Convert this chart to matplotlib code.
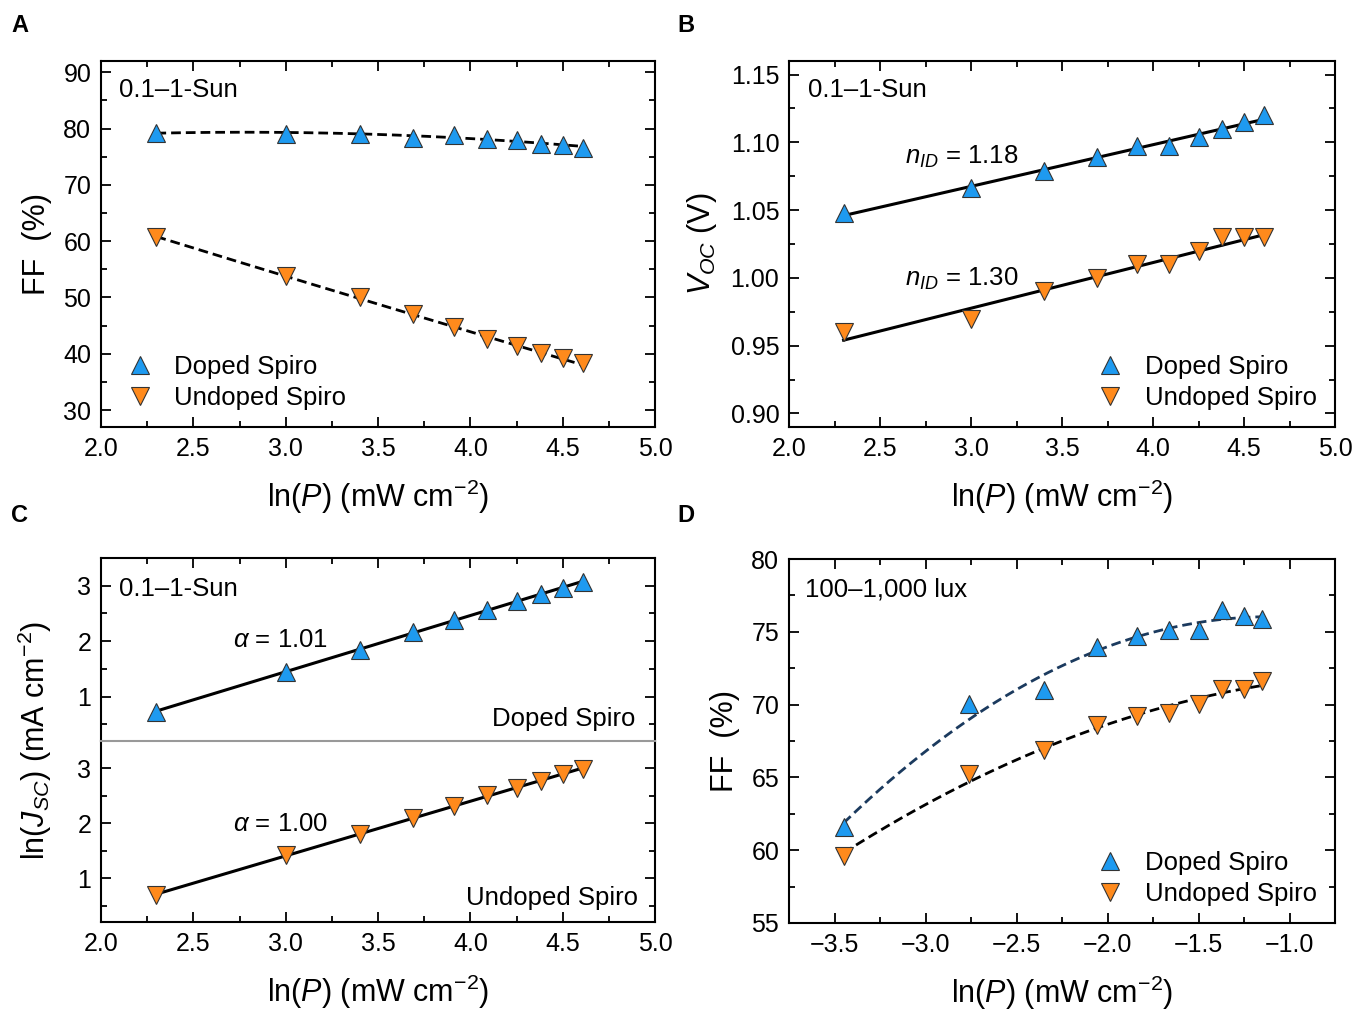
import numpy as np
import matplotlib
matplotlib.use("Agg")
import matplotlib.pyplot as plt
from matplotlib.ticker import MultipleLocator, FuncFormatter

plt.rcParams['font.family'] = ['Liberation Sans', 'DejaVu Sans']
plt.rcParams['mathtext.fontset'] = 'custom'
plt.rcParams['mathtext.rm'] = 'Liberation Sans'
plt.rcParams['mathtext.it'] = 'Liberation Sans:italic'
plt.rcParams['mathtext.bf'] = 'Liberation Sans:bold'

# ---------------- data ----------------
lnP_sun = [2.30, 3.00, 3.40, 3.69, 3.91, 4.09, 4.25, 4.38, 4.50, 4.61]
ff_sun_doped = [79.3, 79.1, 79.0, 78.4, 78.8, 78.2, 78.0, 77.3, 77.1, 76.6]
ff_sun_undoped = [60.7, 53.9, 50.1, 47.0, 44.7, 42.7, 41.3, 40.1, 39.2, 38.3]

voc_doped = [1.048, 1.066, 1.079, 1.089, 1.097, 1.097, 1.104, 1.110, 1.115, 1.120]
voc_undoped = [0.960, 0.970, 0.990, 1.000, 1.010, 1.010, 1.020, 1.030, 1.030, 1.030]

lnjsc_doped = [0.73, 1.45, 1.85, 2.16, 2.38, 2.57, 2.72, 2.85, 2.96, 3.06]
lnjsc_undoped = [0.69, 1.42, 1.80, 2.10, 2.32, 2.52, 2.65, 2.77, 2.89, 2.99]

lnP_lux = [-3.45, -2.76, -2.35, -2.06, -1.84, -1.66, -1.50, -1.37, -1.25, -1.15]
ff_lux_doped = [61.6, 70.05, 71.0, 73.95, 74.7, 75.1, 75.1, 76.5, 76.1, 75.9]
ff_lux_undoped = [59.6, 65.2, 66.9, 68.6, 69.2, 69.4, 70.05, 71.1, 71.1, 71.6]

labels = ["Doped Spiro", "Undoped Spiro"]
xlabel = r"ln($P$) (mW cm$^{-2}$)"

# ---------------- style ----------------
BLUE = '#1e9af0'
ORANGE = '#ff8a1c'
EDGE = '#333333'
MS = 13
FS_TICK = 18
FS_LAB = 22
FS_TXT = 18.5

W, H = 1360, 1011
fig = plt.figure(figsize=(W / 100, H / 100), dpi=100)


def fmt(spec):
    return FuncFormatter(lambda v, p: (spec % v).replace('-', '\u2212'))


def px_axes(l, t, r, b):
    return fig.add_axes([l / W, 1 - b / H, (r - l) / W, (b - t) / H])


def style(ax, top=True, bottom=True):
    ax.tick_params(which='both', direction='in', top=top, bottom=bottom,
                   left=True, right=True, labelsize=FS_TICK, width=1.3)
    ax.tick_params(which='major', length=7, pad=7)
    ax.tick_params(which='minor', length=4)
    for s in ax.spines.values():
        s.set_linewidth(1.5)


def markers(ax, x, yd, yu):
    ax.plot(x, yd, ls='none', marker='^', ms=MS, mfc=BLUE, mec=EDGE, mew=0.8,
            label=labels[0], zorder=3)
    ax.plot(x, yu, ls='none', marker='v', ms=MS, mfc=ORANGE, mec=EDGE, mew=0.8,
            label=labels[1], zorder=3)


def fitline(ax, x, y, deg, **kw):
    c = np.polyfit(x, y, deg)
    xx = np.linspace(min(x), max(x), 200)
    ax.plot(xx, np.polyval(c, xx), zorder=2, **kw)


def legend(ax, loc, anchor):
    ax.legend(loc=loc, bbox_to_anchor=anchor, frameon=False, fontsize=FS_TXT,
              handletextpad=0.55, labelspacing=0.3, handlelength=1.6,
              borderaxespad=0.3)


dash = dict(color='black', lw=2, ls=(0, (3.5, 1.8)))
solid = dict(color='black', lw=2.2)

# ---------------- Panel A ----------------
axA = px_axes(101, 61, 655, 427)
fitline(axA, lnP_sun, ff_sun_doped, 2, **dash)
fitline(axA, lnP_sun, ff_sun_undoped, 2, **dash)
markers(axA, lnP_sun, ff_sun_doped, ff_sun_undoped)
axA.set_xlim(2.0, 5.0)
axA.set_ylim(27, 92)
axA.xaxis.set_major_locator(MultipleLocator(0.5))
axA.xaxis.set_minor_locator(MultipleLocator(0.25))
axA.yaxis.set_major_locator(MultipleLocator(10))
axA.yaxis.set_minor_locator(MultipleLocator(5))
axA.xaxis.set_major_formatter(fmt('%.1f'))
style(axA)
axA.set_xlabel(xlabel, fontsize=FS_LAB, labelpad=12)
axA.set_ylabel("FF  (%)", fontsize=FS_LAB, labelpad=8)
axA.text(0.032, 0.92, "0.1–1-Sun", transform=axA.transAxes, fontsize=FS_TXT,
         va='center', ha='left')
legend(axA, 'lower left', (0.0, -0.004))

# ---------------- Panel B ----------------
axB = px_axes(789, 61, 1335, 427)
fitline(axB, lnP_sun, voc_doped, 1, **solid)
fitline(axB, lnP_sun, voc_undoped, 1, **solid)
markers(axB, lnP_sun, voc_doped, voc_undoped)
axB.set_xlim(2.0, 5.0)
axB.set_ylim(0.89, 1.16)
axB.xaxis.set_major_locator(MultipleLocator(0.5))
axB.xaxis.set_minor_locator(MultipleLocator(0.25))
axB.yaxis.set_major_locator(MultipleLocator(0.05))
axB.yaxis.set_minor_locator(MultipleLocator(0.025))
axB.xaxis.set_major_formatter(fmt('%.1f'))
axB.yaxis.set_major_formatter(fmt('%.2f'))
style(axB)
axB.set_xlabel(xlabel, fontsize=FS_LAB, labelpad=12)
axB.set_ylabel(r"$V_{OC}$ (V)", fontsize=FS_LAB, labelpad=8)
axB.text(0.035, 0.92, "0.1–1-Sun", transform=axB.transAxes, fontsize=FS_TXT,
         va='center', ha='left')
axB.text(2.95, 1.089, r"$n_{ID}$ = 1.18", fontsize=FS_TXT, ha='center', va='center')
axB.text(2.95, 0.999, r"$n_{ID}$ = 1.30", fontsize=FS_TXT, ha='center', va='center')
legend(axB, 'lower right', (1.0, -0.004))

# ---------------- Panel C ----------------
axC1 = px_axes(101, 558, 655, 741)
axC2 = px_axes(101, 741, 655, 922)
fitline(axC1, lnP_sun, lnjsc_doped, 1, **solid)
axC1.plot(lnP_sun, lnjsc_doped, ls='none', marker='^', ms=MS, mfc=BLUE, mec=EDGE,
          mew=0.8, zorder=3)
fitline(axC2, lnP_sun, lnjsc_undoped, 1, **solid)
axC2.plot(lnP_sun, lnjsc_undoped, ls='none', marker='v', ms=MS, mfc=ORANGE, mec=EDGE,
          mew=0.8, zorder=3)
for ax in (axC1, axC2):
    ax.set_xlim(2.0, 5.0)
    ax.set_ylim(0.2, 3.5)
    ax.xaxis.set_major_locator(MultipleLocator(0.5))
    ax.xaxis.set_minor_locator(MultipleLocator(0.25))
    ax.yaxis.set_major_locator(MultipleLocator(1))
    ax.yaxis.set_minor_locator(MultipleLocator(0.5))
    ax.xaxis.set_major_formatter(fmt('%.1f'))
    ax.yaxis.set_major_formatter(fmt('%d'))
style(axC1, top=True, bottom=False)
style(axC2, top=False, bottom=True)
axC1.tick_params(labelbottom=False)
axC1.spines['bottom'].set_visible(False)
axC2.spines['top'].set_color('#999999')
axC2.spines['top'].set_linewidth(1.5)
axC2.set_xlabel(xlabel, fontsize=FS_LAB, labelpad=12)
fig.text(35 / W, 1 - 740 / H, r"ln($J_{SC}$) (mA cm$^{-2}$)", fontsize=FS_LAB,
         rotation=90, ha='center', va='center')
axC1.text(0.032, 0.83, "0.1–1-Sun", transform=axC1.transAxes, fontsize=FS_TXT,
          va='center', ha='left')
axC1.text(2.97, 2.02, r"$\alpha$ = 1.01", fontsize=FS_TXT, ha='center', va='center')
axC2.text(2.97, 1.98, r"$\alpha$ = 1.00", fontsize=FS_TXT, ha='center', va='center')
axC1.text(0.965, 0.12, labels[0], transform=axC1.transAxes, fontsize=FS_TXT,
          ha='right', va='center')
axC2.text(0.97, 0.13, labels[1], transform=axC2.transAxes, fontsize=FS_TXT,
          ha='right', va='center')

# ---------------- Panel D ----------------
axD = px_axes(789, 559, 1335, 923)
fitline(axD, lnP_lux, ff_lux_doped, 2, color='#1b3a5e', lw=2, ls=(0, (3.5, 1.8)))
fitline(axD, lnP_lux, ff_lux_undoped, 2, **dash)
markers(axD, lnP_lux, ff_lux_doped, ff_lux_undoped)
axD.set_xlim(-3.75, -0.75)
axD.set_ylim(55, 80)
axD.xaxis.set_major_locator(MultipleLocator(0.5))
axD.xaxis.set_minor_locator(MultipleLocator(0.25))
axD.yaxis.set_major_locator(MultipleLocator(5))
axD.yaxis.set_minor_locator(MultipleLocator(2.5))
axD.xaxis.set_major_formatter(fmt('%.1f'))
style(axD)
axD.set_xlabel(xlabel, fontsize=FS_LAB, labelpad=12)
axD.set_ylabel("FF  (%)", fontsize=FS_LAB, labelpad=8)
axD.text(0.03, 0.915, "100–1,000 lux", transform=axD.transAxes, fontsize=FS_TXT,
         va='center', ha='left')
legend(axD, 'lower right', (1.0, -0.004))

# panel letters
for letter, (x, y) in zip("ABCD", [(20, 25), (686, 25), (20, 516), (686, 516)]):
    fig.text(x / W, 1 - y / H, letter, fontsize=17, fontweight='bold',
             ha='center', va='center')

fig.savefig("out.png", dpi=100)
